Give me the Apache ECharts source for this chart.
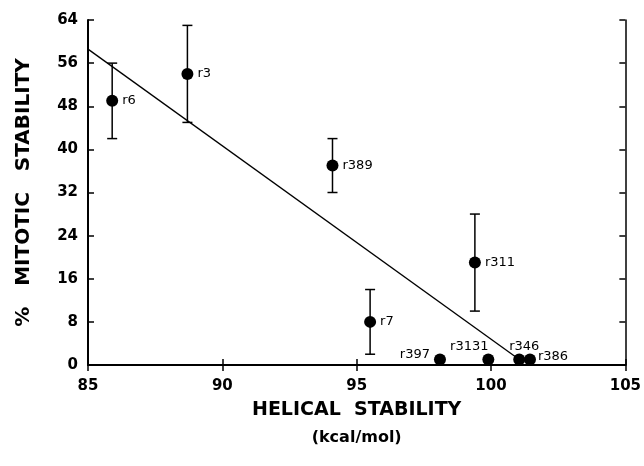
<!DOCTYPE html>
<html>
<head>
<meta charset="utf-8">
<script src="https://cdn.jsdelivr.net/npm/echarts@6/dist/echarts.min.js"></script>
<style>
  html, body { margin: 0; padding: 0; background: #fff; }
  #chart { width: 644px; height: 466px; }
</style>
</head>
<body>
<div id="chart"></div>
<script>
// mutant names and measured values
const names = ["r6", "r3", "r389", "r311", "r7", "r397", "r3131", "r346", "r386"];
const helical = [85.9, 88.7, 94.1, 99.4, 95.5, 98.1, 99.9, 101.05, 101.45];
const mitotic = [49, 54, 37, 19, 8, 1, 1, 1, 1];
const errLow = [42, 45, 32, 10, 2, null, null, null, null];
const errHigh = [56, 63, 42, 28, 14, null, null, null, null];

// regression line end points
const fitX = [85, 101];
const fitY = [58.6, 1.2];

const xTicks = [85, 90, 95, 100, 105];
const yTicks = [0, 8, 16, 24, 32, 40, 48, 56, 64];

// label placement for each point
const labelPlace = {
  r6: { position: "right", offset: [0, 0] },
  r3: { position: "right", offset: [0, 0] },
  r389: { position: "right", offset: [0, 0] },
  r311: { position: "right", offset: [0, 0] },
  r7: { position: "right", offset: [0, 0] },
  r397: { position: "left", offset: [0, -5] },
  r3131: { position: "top", offset: [-19, 4] },
  r346: { position: "top", offset: [5, 4] },
  r386: { position: "right", offset: [-2, -3] },
};

const chart = echarts.init(document.getElementById("chart"));

const tickFont = {
  fontFamily: "DejaVu Sans",
  fontWeight: "bold",
  fontSize: 15,
  color: "#000",
};

const option = {
  backgroundColor: "#fff",
  animation: false,
  grid: { left: 88, right: 18, top: 20, bottom: 101 },
  xAxis: [
    {
      type: "value",
      min: xTicks[0],
      max: xTicks[xTicks.length - 1],
      interval: 5,
      position: "bottom",
      splitLine: { show: false },
      axisLine: { lineStyle: { color: "#000", width: 2 } },
      axisTick: { inside: true, length: 6, lineStyle: { color: "#000", width: 1.5 } },
      axisLabel: Object.assign({ margin: 14 }, tickFont),
      name: "{a|HELICAL  STABILITY}\n{b|(kcal/mol)}",
      nameLocation: "middle",
      nameGap: 31,
      nameTextStyle: {
        rich: {
          a: { fontFamily: "DejaVu Sans", fontWeight: "bold", fontSize: 19, lineHeight: 28, color: "#000" },
          b: { fontFamily: "DejaVu Sans", fontWeight: "bold", fontSize: 16, lineHeight: 28, color: "#000" },
        },
      },
    },
    {
      type: "value",
      min: xTicks[0],
      max: xTicks[xTicks.length - 1],
      interval: 5,
      position: "top",
      splitLine: { show: false },
      axisLine: { lineStyle: { color: "#000", width: 1.5 } },
      axisTick: { inside: true, length: 6, lineStyle: { color: "#000", width: 1.5 } },
      axisLabel: { show: false },
    },
  ],
  yAxis: [
    {
      type: "value",
      min: yTicks[0],
      max: yTicks[yTicks.length - 1],
      interval: 8,
      position: "left",
      splitLine: { show: false },
      axisLine: { show: true, lineStyle: { color: "#000", width: 2 } },
      axisTick: { show: true, inside: true, length: 6, lineStyle: { color: "#000", width: 1.5 } },
      axisLabel: Object.assign({ margin: 10 }, tickFont),
      name: "%   MITOTIC   STABILITY",
      nameLocation: "middle",
      nameGap: 54,
      nameTextStyle: {
        fontFamily: "DejaVu Sans",
        fontWeight: "bold",
        fontSize: 20,
        color: "#000",
      },
    },
    {
      type: "value",
      min: yTicks[0],
      max: yTicks[yTicks.length - 1],
      interval: 8,
      position: "right",
      splitLine: { show: false },
      axisLine: { show: true, lineStyle: { color: "#000", width: 1.5 } },
      axisTick: { show: true, inside: true, length: 6, lineStyle: { color: "#000", width: 1.5 } },
      axisLabel: { show: false },
    },
  ],
  series: [
    {
      // regression line
      type: "line",
      data: fitX.map((x, i) => [x, fitY[i]]),
      symbol: "none",
      lineStyle: { color: "#000", width: 1.3 },
      z: 2,
    },
    {
      // error bars
      type: "custom",
      data: names
        .map((n, i) => [helical[i], errLow[i], errHigh[i]])
        .filter((d) => d[1] !== null),
      renderItem: function (params, api) {
        const lo = api.coord([api.value(0), api.value(1)]);
        const hi = api.coord([api.value(0), api.value(2)]);
        const half = 5;
        const style = { stroke: "#000", lineWidth: 1.5 };
        return {
          type: "group",
          children: [
            { type: "line", shape: { x1: lo[0], y1: lo[1], x2: hi[0], y2: hi[1] }, style: style },
            { type: "line", shape: { x1: lo[0] - half, y1: lo[1], x2: lo[0] + half, y2: lo[1] }, style: style },
            { type: "line", shape: { x1: hi[0] - half, y1: hi[1], x2: hi[0] + half, y2: hi[1] }, style: style },
          ],
        };
      },
      z: 3,
    },
    {
      // points with their names
      type: "scatter",
      symbolSize: 12,
      itemStyle: { color: "#000", opacity: 1 },
      data: names.map((n, i) => ({
        value: [helical[i], mitotic[i]],
        label: {
          show: true,
          formatter: n,
          position: labelPlace[n].position,
          offset: labelPlace[n].offset,
          distance: 4,
          fontFamily: "DejaVu Sans",
          fontSize: 13,
          color: "#000",
        },
      })),
      z: 4,
    },
  ],
};

chart.setOption(option);
</script>
</body>
</html>
